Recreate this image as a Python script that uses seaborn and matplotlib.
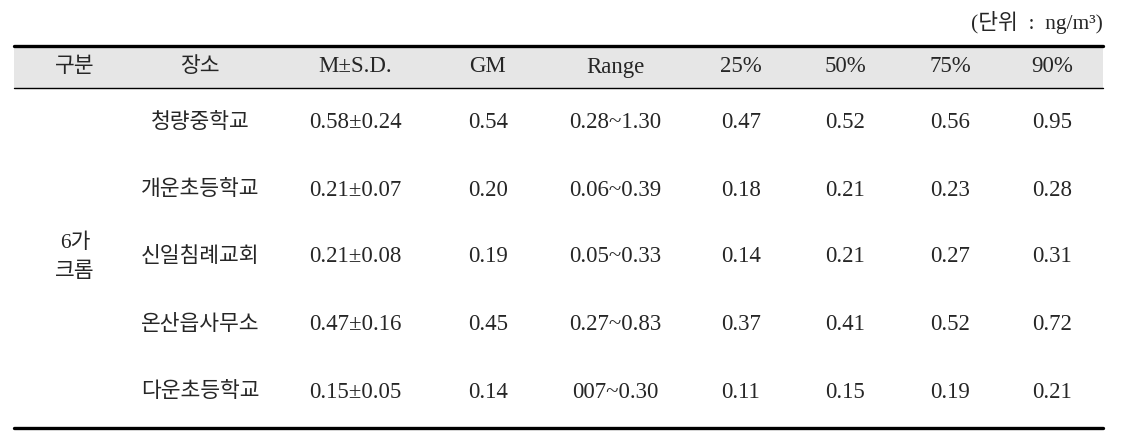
import matplotlib.pyplot as plt
import seaborn as sns

# --------------------
# table data
# --------------------
headers = ['구분', '장소', 'M±S.D.', 'GM', 'Range', '25%', '50%', '75%', '90%']
group = ['6가', '크롬']
places = ['청량중학교', '개운초등학교', '신일침례교회', '온산읍사무소', '다운초등학교']
mean_sd = ['0.58±0.24', '0.21±0.07', '0.21±0.08', '0.47±0.16', '0.15±0.05']
gm = ['0.54', '0.20', '0.19', '0.45', '0.14']
ranges = ['0.28~1.30', '0.06~0.39', '0.05~0.33', '0.27~0.83', '007~0.30']
p25 = ['0.47', '0.18', '0.14', '0.37', '0.11']
p50 = ['0.52', '0.21', '0.21', '0.41', '0.15']
p75 = ['0.56', '0.23', '0.27', '0.52', '0.19']
p90 = ['0.95', '0.28', '0.31', '0.72', '0.21']
unit = '(단위  :  ng/m³)'

# --------------------
# figure
# --------------------
sns.set_style("white")
plt.rcParams['font.family'] = ['Liberation Serif', 'Noto Sans CJK KR', 'DejaVu Sans']

fig = plt.figure(figsize=(11.34, 4.46), dpi=100)
ax = fig.add_axes([0, 0, 1, 1])
ax.set_xlim(0, 1134)
ax.set_ylim(446, 0)
ax.axis('off')

left, right = 14, 1103
col_x = [75, 200, 355, 488, 615, 741, 845, 950, 1052]
head_top, head_bot, bottom = 46, 88, 428
row_y = [123, 190, 257, 325, 392]
fs = 16.5      # latin text
fs_kr = 15.5   # hangul text
kr = dict(fontsize=fs_kr, fontweight='light')

# header band and rules
ax.fill_between([left, right], head_top, head_bot, color='#e6e6e6', lw=0)
ax.plot([left, right], [head_top, head_top], color='black', lw=2.4)
ax.plot([left, right], [head_bot, head_bot], color='black', lw=1.0)
ax.plot([left, right], [bottom, bottom], color='black', lw=2.4)

ax.text(right, 22, unit, ha='right', va='center', fontsize=fs - 1, fontweight='light')

for i, (x, h) in enumerate(zip(col_x, headers)):
    if i < 2:
        ax.text(x, 67, h, ha='center', va='center', **kr)
    else:
        ax.text(x, 67, h, ha='center', va='center', fontsize=fs)

ax.text(col_x[0], 243, group[0], ha='center', va='center', **kr)
ax.text(col_x[0], 272, group[1], ha='center', va='center', **kr)

for y, v in zip(row_y, places):
    ax.text(col_x[1], y, v, ha='center', va='center', **kr)

columns = [mean_sd, gm, ranges, p25, p50, p75, p90]
for x, vals in zip(col_x[2:], columns):
    for y, v in zip(row_y, vals):
        ax.text(x, y, v, ha='center', va='center', fontsize=fs)

fig.savefig('out.png', dpi=100)
